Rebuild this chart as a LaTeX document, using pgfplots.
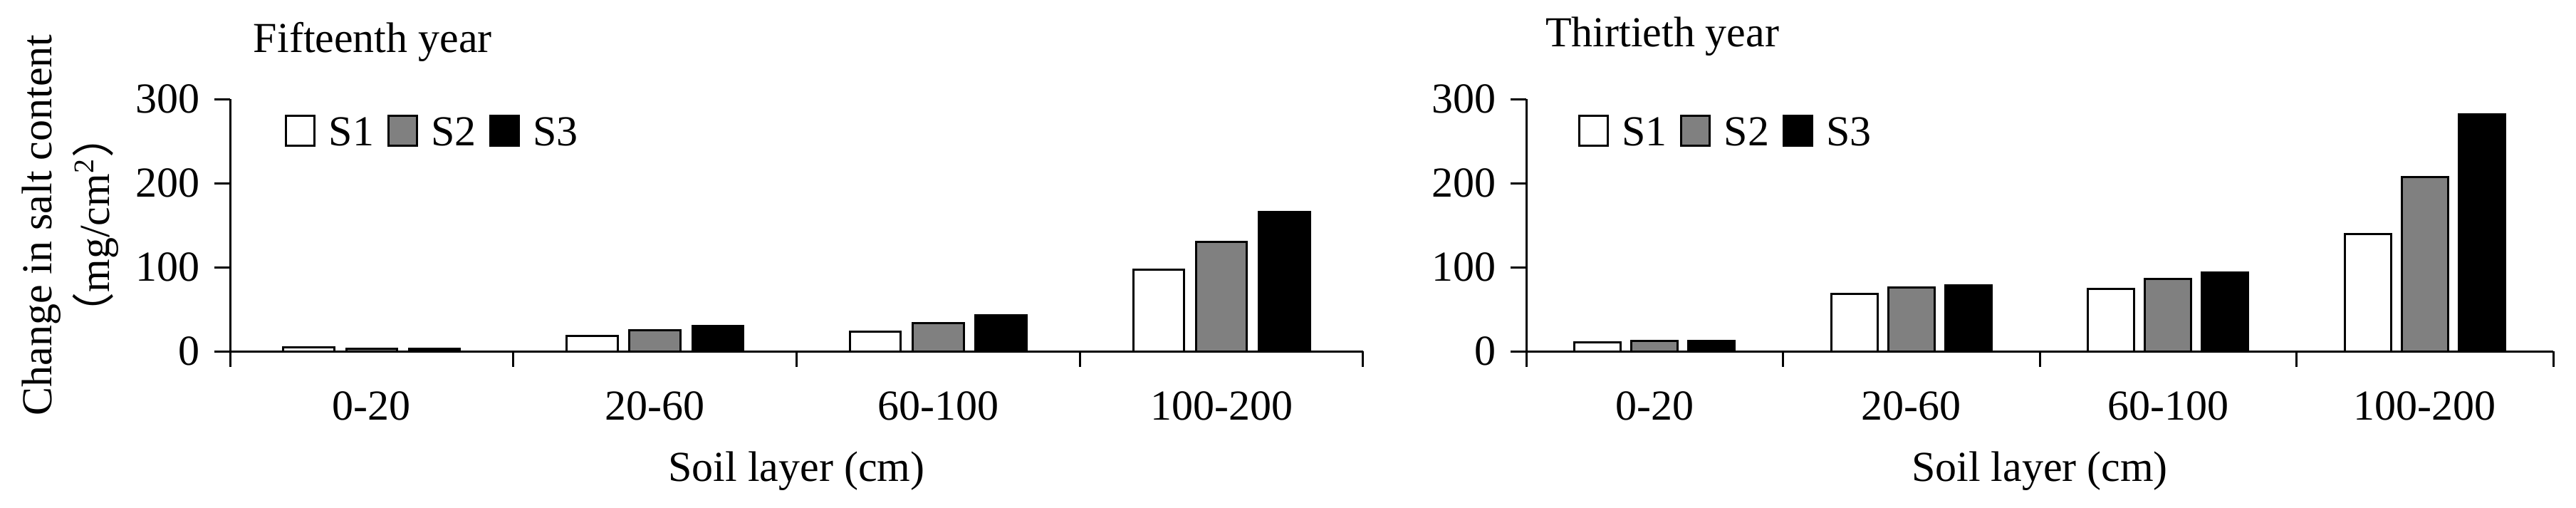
\documentclass[border=0pt]{standalone}
\usepackage{fontspec}
\setmainfont{Liberation Serif}
\newfontfamily\cjk{Noto Sans CJK SC}
\usepackage{pgfplots}
\pgfplotsset{compat=1.18}
\usepackage{pgfplotstable}

\pgfplotstableread{
x s1 s2 s3
0 4.5 3 3
1 18.4 24.6 30.3
2 22.9 33.1 42.5
3 97.4 130.5 166
}\dataA
\pgfplotstableread{
x s1 s2 s3
0 10.5 12 12.5
1 68.1 75.7 78.8
2 74.3 86.2 93.8
3 139 206.8 282
}\dataB

\pgfplotsset{
  myaxis/.style={
    scale only axis, height=70.8pt,
    ymin=0, ymax=300, xmin=-0.5, xmax=3.5,
    axis x line*=bottom, axis y line*=left,
    axis line style={line width=0.6pt, black},
    ytick={0,100,200,300},
    xtick={0,1,2,3}, xticklabels={0-20,20-60,60-100,100-200},
    minor xtick={-0.5,0.5,1.5,2.5,3.5},
    tick align=outside, major tick length=4.4pt, minor tick length=4.4pt,
    tick style={black, line width=0.6pt},
    major x tick style={draw=none},
    /pgf/number format/assume math mode=true,
    xticklabel style={anchor=base, yshift=-14.8pt},
    xlabel={Soil layer (cm)},
    every axis x label/.style={at={(axis description cs:0.5,0)}, anchor=base, yshift=-36.4pt},
    legend columns=3,
    legend style={draw=none, fill=none, inner sep=0pt, outer sep=0pt, anchor=west,
      nodes={inner sep=0pt}, column sep=3.7pt},
    clip=false,
  },
  mybar/.style={ybar, bar width=0.18, draw=black, line width=0.6pt,
    legend image code/.code={\draw[##1, line width=0.6pt] (0pt,-3pt) rectangle (8pt,5.4pt);}},
}

\begin{document}
\fontsize{12}{14.2}\selectfont
\begin{tikzpicture}[font=\fontsize{12}{14.2}\selectfont]
\useasboundingbox (0,0) rectangle (723.4pt,142.4pt);

\begin{axis}[myaxis, width=318.2pt,
  at={(64.6pt,43.8pt)}, anchor=south west,
  title={Fifteenth year},
  every axis title/.style={at={(axis description cs:0,1)}, anchor=base west, xshift=2.4pt, yshift=13.2pt},
  ylabel={Change in salt content\\[2pt]{\cjk （}mg/cm\textsuperscript{2}{\cjk ）}},
  every axis y label/.style={at={(axis description cs:-0.1409,0.5)}, rotate=90, anchor=center, align=center},
  legend style={at={(axis cs:-0.306,259)}},
]
\addplot[mybar, fill=white, bar shift=-0.222] table[x=x, y=s1] {\dataA};
\addplot[mybar, fill=gray, bar shift=0] table[x=x, y=s2] {\dataA};
\addplot[mybar, fill=black, bar shift=0.222] table[x=x, y=s3] {\dataA};
\legend{S1,S2,S3}
\end{axis}

\begin{axis}[myaxis, width=288.4pt,
  at={(428.6pt,43.8pt)}, anchor=south west,
  title={Thirtieth year},
  every axis title/.style={at={(axis description cs:0,1)}, anchor=base west, xshift=1.2pt, yshift=14.8pt},
  legend style={at={(axis cs:-0.2975,259)}},
]
\addplot[mybar, fill=white, bar shift=-0.222] table[x=x, y=s1] {\dataB};
\addplot[mybar, fill=gray, bar shift=0] table[x=x, y=s2] {\dataB};
\addplot[mybar, fill=black, bar shift=0.222] table[x=x, y=s3] {\dataB};
\legend{S1,S2,S3}
\end{axis}
\end{tikzpicture}
\end{document}
